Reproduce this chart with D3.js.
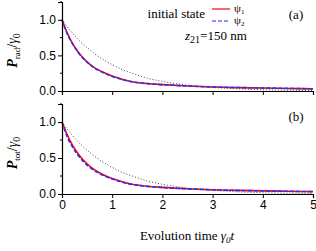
<!DOCTYPE html>
<html>
<head>
<meta charset="utf-8">
<script src="https://cdn.jsdelivr.net/npm/d3@7"></script>
<style>
body { margin: 0; background: #fff; }
svg text { fill: #000; }
</style>
</head>
<body>
<svg id="chart"></svg>
<script>
// evolution time γ0 t
const times = [0, 0.1, 0.2, 0.3, 0.4, 0.5, 0.6, 0.8, 1.0, 1.2, 1.4, 1.7, 2.0, 2.5, 3.0, 3.5, 4.0, 4.5, 5.0];

// (a) P_rad / γ0
const radPsi1 = [1.0, 0.82, 0.68, 0.57, 0.48, 0.41, 0.35, 0.27, 0.21, 0.165, 0.13, 0.105, 0.09, 0.07, 0.056, 0.048, 0.042, 0.036, 0.03];
const radPsi2 = [1.0, 0.81, 0.675, 0.565, 0.475, 0.405, 0.345, 0.265, 0.205, 0.16, 0.128, 0.104, 0.09, 0.07, 0.057, 0.049, 0.043, 0.037, 0.031];
// (b) P_tot / γ0
const totPsi1 = [1.0, 0.83, 0.69, 0.58, 0.49, 0.42, 0.36, 0.275, 0.215, 0.17, 0.135, 0.108, 0.092, 0.072, 0.058, 0.05, 0.044, 0.038, 0.033];
const totPsi2 = [1.0, 0.80, 0.665, 0.555, 0.47, 0.40, 0.345, 0.265, 0.21, 0.165, 0.132, 0.106, 0.09, 0.071, 0.058, 0.05, 0.044, 0.038, 0.033];
// free-space reference (dotted)
const reference = [1.0, 0.905, 0.82, 0.74, 0.67, 0.61, 0.55, 0.45, 0.37, 0.30, 0.25, 0.18, 0.135, 0.082, 0.05, 0.03, 0.018, 0.011, 0.007];

const xTicks = [0, 1, 2, 3, 4, 5];
const yTicks = [0, 0.5, 1.0];
const yMinor = [0.25, 0.75, 1.25];

const svg = d3.select("#chart")
    .attr("width", 316)
    .attr("height", 251);

const x = d3.scaleLinear().domain([0, 5]).range([62, 313]);

const panels = [
    { top: 2, bottom: 91, s1: radPsi1, s2: radPsi2, sub: "rad", tag: "(a)", labels: false },
    { top: 104, bottom: 194, s1: totPsi1, s2: totPsi2, sub: "tot", tag: "(b)", labels: true }
];

panels.forEach(p => {
    const y = d3.scaleLinear().domain([0, 1.25]).range([p.bottom, p.top]);
    const g = svg.append("g");

    const line = d3.line()
        .x((d, i) => x(times[i]))
        .y(d => y(d))
        .curve(d3.curveMonotoneX);

    g.append("path")
        .datum(reference)
        .attr("d", line)
        .attr("fill", "none")
        .attr("stroke", "#444")
        .attr("stroke-width", 1)
        .attr("stroke-dasharray", "1,2");

    g.append("path")
        .datum(p.s1)
        .attr("d", line)
        .attr("fill", "none")
        .attr("stroke", "#ff0000")
        .attr("stroke-width", 1.6);

    g.append("path")
        .datum(p.s2)
        .attr("d", line)
        .attr("fill", "none")
        .attr("stroke", "#2233ff")
        .attr("stroke-width", 1.6)
        .attr("stroke-dasharray", "4,2");

    // y axis
    const yAxis = g.append("g")
        .attr("transform", `translate(${x(0)},0)`)
        .call(d3.axisLeft(y).tickValues(yTicks).tickFormat(d3.format(".1f")).tickSize(4).tickPadding(2));
    yAxis.selectAll("text")
        .style("font-family", "Liberation Sans, Arial, sans-serif")
        .style("font-size", "12px");
    yAxis.append("g")
        .selectAll("line")
        .data(yMinor)
        .join("line")
        .attr("x1", 0).attr("x2", -2)
        .attr("y1", d => y(d)).attr("y2", d => y(d))
        .attr("stroke", "#000");

    // x axis
    const xAxis = g.append("g")
        .attr("transform", `translate(0,${p.bottom})`)
        .call(d3.axisBottom(x).tickValues(xTicks).tickSize(4).tickPadding(2)
            .tickFormat(p.labels ? d3.format("d") : ""));
    xAxis.selectAll("text")
        .style("font-family", "Liberation Sans, Arial, sans-serif")
        .style("font-size", "12px");

    g.selectAll(".domain").attr("stroke", "#000").attr("stroke-width", 1.2);

    // y label
    const cy = (p.top + p.bottom) / 2 + 4;
    const lab = g.append("text")
        .attr("transform", `translate(17,${cy}) rotate(-90)`)
        .attr("text-anchor", "middle")
        .style("font-family", "Liberation Serif, Times New Roman, serif")
        .style("font-size", "14px");
    lab.append("tspan").text("P").style("font-style", "italic").style("font-weight", "bold");
    lab.append("tspan").text(p.sub).attr("dy", 3).style("font-size", "9px");
    lab.append("tspan").text("/").attr("dy", -3);
    lab.append("tspan").text("γ").style("font-style", "italic");
    lab.append("tspan").text("0").attr("dy", 3).style("font-size", "10px");

    g.append("text")
        .attr("x", 296).attr("y", p.top + 17)
        .attr("text-anchor", "middle")
        .style("font-family", "Liberation Serif, Times New Roman, serif")
        .style("font-size", "13px")
        .text(p.tag);
});

// legend
const serif = "Liberation Serif, Times New Roman, serif";
svg.append("text")
    .attr("x", 205).attr("y", 18)
    .attr("text-anchor", "end")
    .style("font-family", serif)
    .style("font-size", "13px")
    .text("initial state");

const legend = [
    { name: "1", color: "#ff0000", dash: null, y: 9 },
    { name: "2", color: "#2233ff", dash: "4,2", y: 21 }
];
legend.forEach(d => {
    svg.append("line")
        .attr("x1", 212).attr("x2", 230)
        .attr("y1", d.y).attr("y2", d.y)
        .attr("stroke", d.color)
        .attr("stroke-width", 1.2)
        .attr("stroke-dasharray", d.dash);
    const t = svg.append("text")
        .attr("x", 234).attr("y", d.y + 3)
        .style("font-family", serif)
        .style("font-size", "11px");
    t.append("tspan").text("ψ");
    t.append("tspan").text(d.name).attr("dy", 1.5).style("font-size", "7px");
});

const zt = svg.append("text")
    .attr("x", 185).attr("y", 40)
    .style("font-family", serif)
    .style("font-size", "13px");
zt.append("tspan").text("z").style("font-style", "italic");
zt.append("tspan").text("21").attr("dy", 3).style("font-size", "10px");
zt.append("tspan").text("=150 nm").attr("dy", -3);

// x label
const xl = svg.append("text")
    .attr("x", 187).attr("y", 240)
    .attr("text-anchor", "middle")
    .style("font-family", serif)
    .style("font-size", "13px");
xl.append("tspan").text("Evolution time ");
xl.append("tspan").text("γ").style("font-style", "italic");
xl.append("tspan").text("0").attr("dy", 3).style("font-size", "9px").style("font-style", "italic");
xl.append("tspan").text("t").attr("dy", -3).style("font-style", "italic");
</script>
</body>
</html>
